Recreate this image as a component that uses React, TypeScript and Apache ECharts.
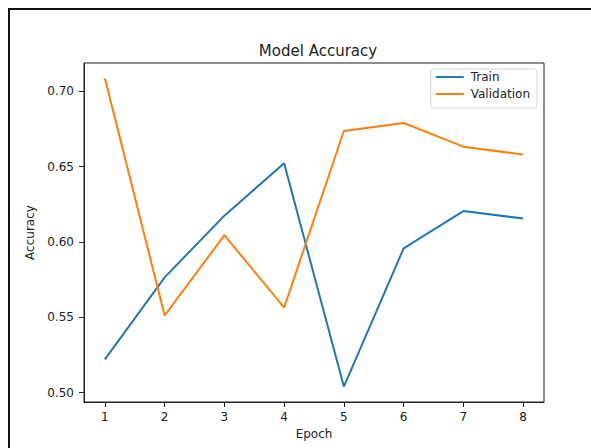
import React, { useEffect, useRef } from "react";
import * as echarts from "echarts";

const epochs = [1, 2, 3, 4, 5, 6, 7, 8];
const trainAcc = [0.5221, 0.5765, 0.6175, 0.6523, 0.504, 0.5957, 0.6205, 0.6156];
const valAcc = [0.7086, 0.5512, 0.6045, 0.5565, 0.6737, 0.679, 0.6633, 0.658];
const yTicks = [0.5, 0.55, 0.6, 0.65, 0.7];

const FONT = "DejaVu Sans";
const TEXT = "#222";

export default function App() {
  const ref = useRef<HTMLDivElement>(null);

  useEffect(() => {
    if (!ref.current) return;
    const chart = echarts.init(ref.current, undefined, { renderer: "svg" });

    // 5% padding around the data, like a default matplotlib autoscale
    const all = [...trainAcc, ...valAcc];
    const lo = Math.min(...all);
    const hi = Math.max(...all);
    const yPad = (hi - lo) * 0.05;
    const xPad = (epochs[epochs.length - 1] - epochs[0]) * 0.05;

    chart.setOption({
      animation: false,
      backgroundColor: "#fff",
      title: {
        text: "Model Accuracy",
        left: 313,
        top: 38,
        textAlign: "center",
        textStyle: { fontFamily: FONT, fontSize: 15, fontWeight: "normal", color: TEXT },
      },
      legend: {
        orient: "vertical",
        right: 54,
        top: 69,
        icon: "rect",
        itemWidth: 28,
        itemHeight: 2,
        itemGap: 5,
        padding: [2, 7, 8, 5],
        backgroundColor: "rgba(255,255,255,0.8)",
        borderColor: "#d6d6d6",
        borderWidth: 1,
        borderRadius: 3,
        textStyle: { fontFamily: FONT, fontSize: 12, color: TEXT, padding: [0, 0, 0, 2] },
        data: ["Train", "Validation"],
      },
      grid: {
        left: 84,
        top: 63,
        right: 47,
        bottom: 46,
        show: true,
        borderColor: "#222",
        borderWidth: 1,
        backgroundColor: "transparent",
      },
      xAxis: {
        type: "value",
        min: epochs[0] - xPad,
        max: epochs[epochs.length - 1] + xPad,
        name: "Epoch",
        nameLocation: "middle",
        nameGap: 26,
        nameTextStyle: { fontFamily: FONT, fontSize: 12, color: TEXT },
        axisLine: { show: true, lineStyle: { color: "#222", width: 1 } },
        axisTick: { show: true, length: 5, lineStyle: { color: "#222" }, customValues: epochs },
        axisLabel: {
          fontFamily: FONT,
          fontSize: 12,
          color: TEXT,
          margin: 9,
          customValues: epochs,
          formatter: (v: number) => String(v),
        },
        splitLine: { show: false },
      },
      yAxis: {
        type: "value",
        min: lo - yPad,
        max: hi + yPad,
        name: "Accuracy",
        nameLocation: "middle",
        nameGap: 44,
        nameRotate: 90,
        nameTextStyle: { fontFamily: FONT, fontSize: 12, color: TEXT },
        axisLine: { show: true, lineStyle: { color: "#222", width: 1 } },
        axisTick: { show: true, length: 5, lineStyle: { color: "#222" }, customValues: yTicks },
        axisLabel: {
          fontFamily: FONT,
          fontSize: 12,
          color: TEXT,
          margin: 10,
          customValues: yTicks,
          formatter: (v: number) => v.toFixed(2),
        },
        splitLine: { show: false },
      },
      series: [
        {
          name: "Train",
          type: "line",
          data: epochs.map((e, i) => [e, trainAcc[i]]),
          showSymbol: false,
          symbol: "none",
          itemStyle: { color: "#1f77b4" },
          lineStyle: { color: "#1f77b4", width: 2 },
        },
        {
          name: "Validation",
          type: "line",
          data: epochs.map((e, i) => [e, valAcc[i]]),
          showSymbol: false,
          symbol: "none",
          itemStyle: { color: "#ff7f0e" },
          lineStyle: { color: "#ff7f0e", width: 2 },
        },
      ],
    });

    return () => chart.dispose();
  }, []);

  return (
    <div style={{ position: "fixed", left: 0, top: 0, width: 591, height: 448, overflow: "hidden", background: "#fff" }}>
      <div ref={ref} style={{ position: "absolute", left: 0, top: 0, width: 591, height: 448 }} />
      <div
        style={{
          position: "absolute",
          left: 8,
          top: 8,
          width: 620,
          height: 480,
          borderLeft: "2px solid #111",
          borderTop: "2px solid #111",
          pointerEvents: "none",
        }}
      />
    </div>
  );
}
